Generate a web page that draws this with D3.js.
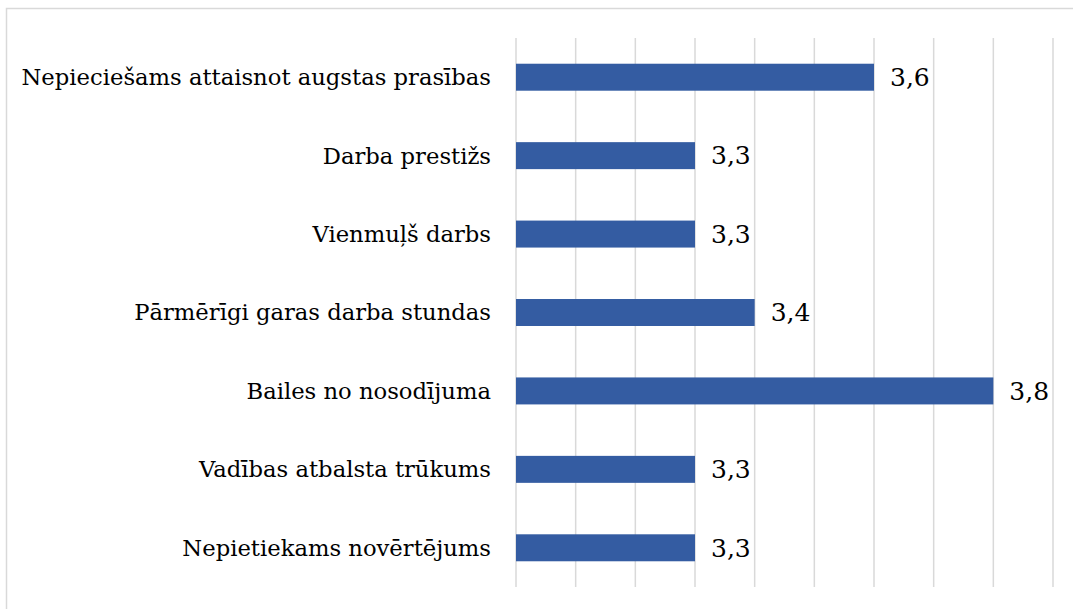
<!DOCTYPE html>
<html>
<head>
<meta charset="utf-8">
<script src="https://cdn.jsdelivr.net/npm/d3@7"></script>
</head>
<body style="margin:0;background:#fff">
<div id="chart"></div>
<script>
var categories = [
  "Nepieciešams attaisnot augstas prasības",
  "Darba prestižs",
  "Vienmuļš darbs",
  "Pārmērīgi garas darba stundas",
  "Bailes no nosodījuma",
  "Vadības atbalsta trūkums",
  "Nepietiekams novērtējums"
];
var values = [3.6, 3.3, 3.3, 3.4, 3.8, 3.3, 3.3];
var xDomain = [3.0, 3.9];
var gridTicks = [3.0, 3.1, 3.2, 3.3, 3.4, 3.5, 3.6, 3.7, 3.8, 3.9];

var _width = 1073, _height = 609,
  _margins = {top: 38, left: 516, right: 20, bottom: 22};

var svg = d3.select("#chart").append("svg")
  .attr("width", _width)
  .attr("height", _height)
  .style("display", "block");

// outer chart frame
svg.append("rect")
  .attr("x", 6.5).attr("y", 8.5)
  .attr("width", _width + 20).attr("height", _height + 20)
  .attr("fill", "none")
  .attr("stroke", "#d9d9d9")
  .attr("stroke-width", 1.5);

var x = d3.scaleLinear()
  .domain(xDomain)
  .range([_margins.left, 1053]);

var y = d3.scaleBand()
  .domain(categories)
  .range([_margins.top, _height - _margins.bottom])
  .paddingInner(0.656)
  .paddingOuter(0.328);

// vertical grid lines
svg.append("g").attr("class", "grid")
  .selectAll("line")
  .data(gridTicks)
  .enter().append("line")
    .attr("x1", function (d) { return x(d); })
    .attr("x2", function (d) { return x(d); })
    .attr("y1", _margins.top)
    .attr("y2", _height - _margins.bottom)
    .attr("stroke", "#d9d9d9")
    .attr("stroke-width", 1.5);

// category labels
svg.append("g").selectAll("text.cat")
  .data(categories)
  .enter().append("text")
    .attr("class", "cat")
    .attr("x", _margins.left - 25)
    .attr("y", function (d) { return y(d) + y.bandwidth() / 2; })
    .attr("dy", "0.35em")
    .attr("text-anchor", "end")
    .style("font", "22.7px 'DejaVu Serif', serif")
    .attr("fill", "#000")
    .text(function (d) { return d; });

svg.append("g").selectAll("rect.bar")
  .data(values)
  .enter().append("rect")
    .attr("class", "bar")
    .attr("x", x(xDomain[0]))
    .attr("y", function (d, i) { return y(categories[i]); })
    .attr("width", function (d) { return x(d) - x(xDomain[0]); })
    .attr("height", y.bandwidth())
    .attr("fill", "#345ca2");

var fmt = function (d) { return d3.format(".1f")(d).replace(".", ","); };

svg.append("g").selectAll("text.value")
  .data(values)
  .enter().append("text")
    .attr("class", "value")
    .attr("x", function (d) { return x(d) + 16; })
    .attr("y", function (d, i) { return y(categories[i]) + y.bandwidth() / 2; })
    .attr("dy", "0.35em")
    .style("font", "25px 'DejaVu Serif', serif")
    .attr("fill", "#000")
    .text(fmt);
</script>
</body>
</html>
